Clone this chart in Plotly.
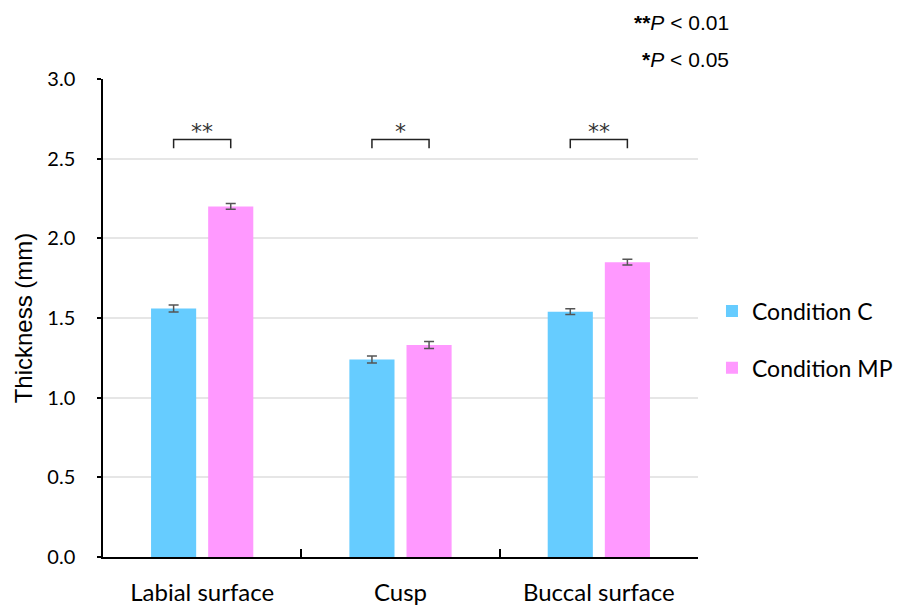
import plotly.graph_objects as go

categories = ["Labial surface", "Cusp", "Buccal surface"]
cond_c = [1.56, 1.24, 1.54]
cond_c_err = [0.022, 0.022, 0.018]
cond_mp = [2.20, 1.33, 1.85]
cond_mp_err = [0.018, 0.022, 0.018]
sig_labels = ["**", "*", "**"]
bracket_y = 2.62

bargap = 0.424
bargroupgap = 0.21
slot = (1 - bargap) / 2
half = slot / 2

fig = go.Figure()
fig.add_trace(go.Bar(name="Condition C", x=categories, y=cond_c, legendgroup="c",
                     marker=dict(color="#66CCFF", line=dict(width=0)),
                     error_y=dict(type="data", array=cond_c_err, color="#555555", thickness=1.5, width=5)))
fig.add_trace(go.Bar(name="Condition MP", x=categories, y=cond_mp, legendgroup="mp",
                     marker=dict(color="#FF99FF", line=dict(width=0)),
                     error_y=dict(type="data", array=cond_mp_err, color="#555555", thickness=1.5, width=5)))

for i, lab in enumerate(sig_labels):
    x0, x1 = i - half, i + half
    fig.add_shape(type="path",
                  path=f"M {x0} {bracket_y-0.055} L {x0} {bracket_y} L {x1} {bracket_y} L {x1} {bracket_y-0.055}",
                  xref="x", yref="y", line=dict(color="#222222", width=1.5))
    fig.add_annotation(x=i, y=bracket_y, text=lab, showarrow=False, yanchor="bottom", yshift=-6,
                       font=dict(family="DejaVu Sans", size=22, color="#333333"))

fig.add_annotation(xref="paper", yref="paper", x=1.056, y=1.119, xanchor="right", yanchor="middle",
                   text="<b>**</b><i>P</i> < 0.01", showarrow=False,
                   font=dict(family="Liberation Sans", size=21, color="black"))
fig.add_annotation(xref="paper", yref="paper", x=1.056, y=1.04, xanchor="right", yanchor="middle",
                   text="<b>*</b><i>P</i> < 0.05", showarrow=False,
                   font=dict(family="Liberation Sans", size=21, color="black"))

fig.update_layout(
    width=904, height=606,
    margin=dict(l=95, r=214, t=71, b=57, autoexpand=False),
    paper_bgcolor="white", plot_bgcolor="white",
    barmode="group", bargap=bargap, bargroupgap=bargroupgap,
    font=dict(family="Lato", color="black"),
    showlegend=True,
    legend=dict(x=1.0235, y=0.455, xanchor="left", yanchor="middle",
                font=dict(family="Lato", size=23, color="black"),
                tracegroupgap=24, itemwidth=30),
)
fig.update_xaxes(type="category", showline=True, linecolor="black", linewidth=1.5,
                 ticks="inside", tickson="boundaries", ticklen=8, tickcolor="black", tickwidth=1.5,
                 tickfont=dict(family="Lato", size=24, color="black"), ticklabelstandoff=13,
                 showgrid=False, automargin=False)
fig.update_yaxes(range=[0, 3], dtick=0.5, tickformat=".1f", showline=True, linecolor="black", linewidth=1.5,
                 ticks="outside", ticklen=4, tickcolor="black", tickwidth=1.5,
                 tickfont=dict(family="Lato", size=20, color="black"), ticklabelstandoff=18,
                 showgrid=True, gridcolor="#E6E6E6", gridwidth=1.5, zeroline=False, automargin=False,
                 title=dict(text="Thickness (mm)", font=dict(family="Liberation Sans", size=24, color="black"), standoff=8))

fig.write_html("out.html")
